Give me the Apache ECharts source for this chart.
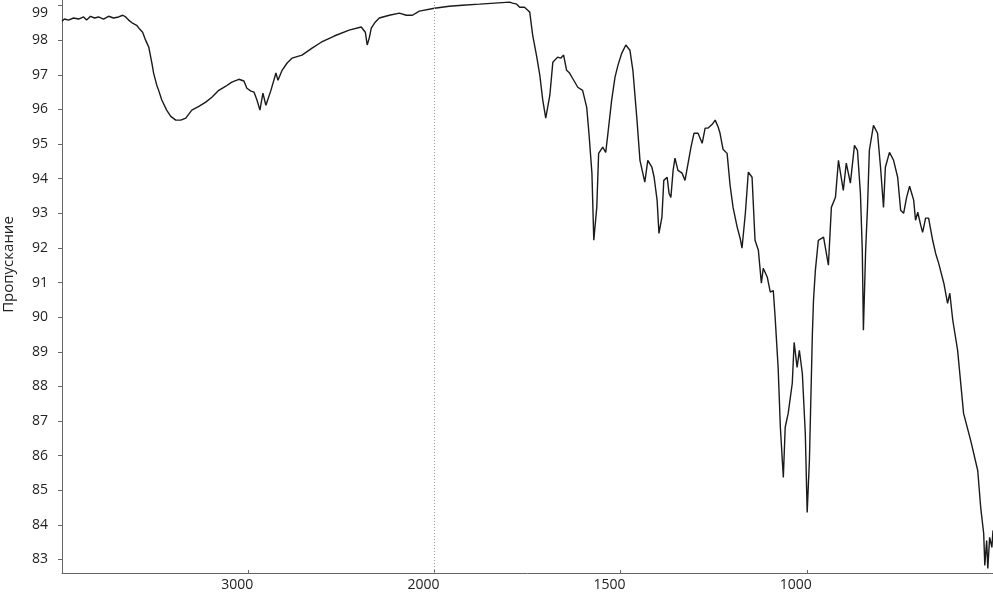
<!DOCTYPE html>
<html>
<head>
<meta charset="utf-8">
<script src="https://cdn.jsdelivr.net/npm/echarts@6/dist/echarts.min.js"></script>
<style>
html,body{margin:0;padding:0;background:#fff;}
#chart{width:993px;height:595px;}
</style>
</head>
<body>
<div id="chart"></div>
<script>
// Wavenumber, cm-1
const wavenumber = [4000,3987,3965,3938,3911,3884,3868,3847,3825,3804,3777,3750,3723,3696,3674,3658,3642,3621,3599,3583,3567,3551,3534,3518,3508,3491,3481,3464,3438,3416,3389,3362,3335,3303,3265,3228,3195,3158,3120,3088,3050,3023,3007,2985,2969,2953,2937,2921,2905,2878,2851,2840,2818,2791,2765,2711,2657,2608,2538,2458,2393,2371,2361,2350,2339,2318,2296,2242,2188,2151,2118,2081,2000,1960,1925,1879,1838,1798,1790,1779,1771,1758,1750,1744,1736,1725,1717,1709,1701,1690,1682,1669,1661,1653,1645,1637,1629,1615,1602,1591,1585,1577,1572,1564,1559,1548,1540,1534,1524,1515,1507,1497,1486,1475,1467,1456,1448,1435,1427,1416,1410,1402,1397,1389,1384,1375,1370,1365,1359,1354,1346,1335,1327,1322,1311,1303,1292,1281,1273,1265,1260,1254,1246,1238,1233,1225,1214,1206,1198,1187,1179,1174,1165,1157,1147,1139,1130,1122,1117,1106,1098,1090,1085,1077,1071,1063,1058,1050,1039,1034,1026,1020,1012,1004,999,993,985,982,977,969,955,942,934,923,915,910,902,894,883,872,864,856,851,848,842,837,832,821,810,802,794,789,778,767,756,748,740,732,724,713,708,702,694,689,681,673,662,654,646,632,622,616,608,595,579,560,541,533,525,522,517,514,509,503,500];
// Transmittance, %
const transmittance = [98.55,98.61,98.58,98.64,98.61,98.67,98.58,98.69,98.64,98.67,98.61,98.69,98.64,98.67,98.72,98.67,98.58,98.49,98.43,98.32,98.23,98.00,97.80,97.36,97.05,96.70,96.55,96.27,95.98,95.80,95.69,95.69,95.75,95.98,96.09,96.21,96.35,96.55,96.67,96.79,96.87,96.82,96.61,96.53,96.50,96.27,95.98,96.47,96.12,96.55,97.05,96.84,97.13,97.34,97.48,97.57,97.77,97.94,98.12,98.29,98.38,98.23,97.86,98.06,98.35,98.52,98.64,98.72,98.78,98.72,98.72,98.84,98.92,98.98,99.01,99.04,99.07,99.10,99.07,99.04,98.95,98.95,98.87,98.81,98.14,97.51,96.99,96.27,95.75,96.41,97.36,97.51,97.48,97.57,97.13,97.05,96.90,96.64,96.55,96.06,95.31,94.16,92.22,93.17,94.73,94.91,94.76,95.31,96.27,96.93,97.28,97.62,97.86,97.71,97.13,95.69,94.53,93.90,94.53,94.33,94.04,93.38,92.42,92.89,93.95,94.04,93.58,93.46,94.24,94.59,94.24,94.16,93.95,93.95,94.91,95.31,95.31,95.02,95.46,95.46,95.49,95.57,95.69,95.49,95.31,94.85,94.73,93.81,93.17,92.60,92.28,91.99,93.00,94.19,94.04,92.22,91.93,90.98,91.41,91.15,90.72,90.77,89.99,88.55,86.82,85.37,86.82,87.22,88.09,89.27,88.55,89.04,88.38,86.64,84.36,85.86,89.53,90.49,91.35,92.22,92.31,91.50,93.17,93.46,94.53,94.53,93.66,94.45,93.87,94.96,94.82,93.58,91.93,89.62,91.93,93.17,94.82,95.54,95.31,94.33,93.17,94.33,94.76,94.53,94.04,93.09,93.00,93.46,93.78,93.38,92.80,93.03,92.65,92.45,92.86,92.86,92.22,91.84,91.56,90.98,90.40,90.69,89.91,89.04,87.22,86.44,85.57,84.50,83.75,82.83,83.55,82.74,83.64,83.35,83.84];
const xTickLabels = [3000, 2000, 1500, 1000];
const yTickLabels = [83,84,85,86,87,88,89,90,91,92,93,94,95,96,97,98,99];
const yName = 'Пропускание';

// The instrument plots 4000-2000 cm-1 at half the scale of 2000-400 cm-1
function toAxis(w){ return w <= 2000 ? w : 2000 + (w - 2000) / 2; }
function fromAxis(u){ return u <= 2000 ? u : 2000 + (u - 2000) * 2; }

const FONT = 'Open Sans';
const chart = echarts.init(document.getElementById('chart'), null, {renderer:'canvas'});
chart.setOption({
  animation: false,
  backgroundColor: '#ffffff',
  grid: {left: 62, right: 0, top: 0, bottom: 22, containLabel: false, outerBoundsMode: 'none'},
  xAxis: {
    type: 'value',
    inverse: true,
    min: toAxis(500),
    max: toAxis(4000),
    interval: 500,
    splitLine: {show: false},
    axisLine: {show: true, lineStyle: {color: '#666', width: 1}},
    axisTick: {show: true, customValues: xTickLabels.map(toAxis), length: 3, inside: true, lineStyle: {color: '#666'}},
    minorTick: {show: false},
    axisLabel: {
      customValues: xTickLabels.map(toAxis),
      formatter: v => String(Math.round(fromAxis(v))),
      margin: 5,
      padding: [0, 22, 0, 0],
      color: '#222', fontSize: 14, fontFamily: FONT
    }
  },
  yAxis: {
    type: 'value',
    min: 82.61,
    max: 99.16,
    splitLine: {show: false},
    axisLine: {show: true, lineStyle: {color: '#666', width: 1}},
    axisTick: {show: true, customValues: yTickLabels, length: 4, lineStyle: {color: '#666'}},
    axisLabel: {
      customValues: yTickLabels,
      formatter: v => (v === 99 ? '{t|99}' : String(v)),
      margin: 14,
      color: '#222', fontSize: 14, fontFamily: FONT,
      rich: {t: {padding: [14, 0, 0, 0], color: '#222', fontSize: 14, fontFamily: FONT}}
    },
    name: yName,
    nameLocation: 'middle',
    nameGap: 46,
    nameTextStyle: {color: '#222', fontSize: 15, fontFamily: FONT, padding: [0, 0, 0, 44]}
  },
  series: [{
    type: 'line',
    data: wavenumber.map((w, i) => [toAxis(w), transmittance[i]]),
    showSymbol: false,
    symbol: 'none',
    lineStyle: {color: '#1a1a1a', width: 1.4},
    clip: true,
    markLine: {
      silent: true,
      symbol: ['none', 'none'],
      label: {show: false},
      lineStyle: {color: '#999', type: [1, 2], width: 1},
      data: [{xAxis: toAxis(2000)}]
    }
  }]
});
</script>
</body>
</html>
